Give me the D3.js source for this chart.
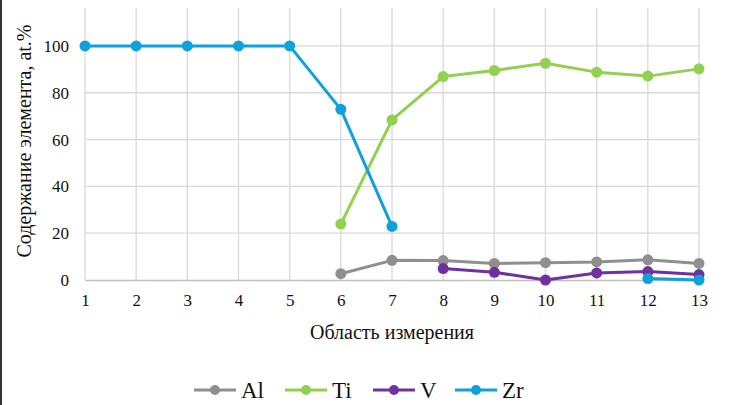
<!DOCTYPE html>
<html>
<head>
<meta charset="utf-8">
<script src="https://cdn.jsdelivr.net/npm/d3@7"></script>
<style>
  html, body { margin: 0; padding: 0; background: #fff; }
  svg { display: block; }
</style>
</head>
<body>
<svg id="chart" width="730" height="405" font-family="Liberation Serif"></svg>
<script>
// Measurement areas along the x axis
const areas = [1, 2, 3, 4, 5, 6, 7, 8, 9, 10, 11, 12, 13];
const yTicks = [0, 20, 40, 60, 80, 100];

// Element content per area, at.% (null = not measured)
const alValues = [null, null, null, null, null, 2.7, 8.4, 8.3, 7.1, 7.4, 7.7, 8.6, 7.1];
const tiValues = [null, null, null, null, null, 23.9, 68.4, 86.9, 89.5, 92.6, 88.8, 87.1, 90.2];
const vValues  = [null, null, null, null, null, null, null, 4.9, 3.3, 0, 3.0, 3.6, 2.3];
const zrValues = [100, 100, 100, 100, 100, 72.9, 22.9, null, null, null, null, 0.6, 0];

const seriesNames = ["Al", "Ti", "V", "Zr"];
const seriesColors = ["#8f8f8f", "#92d050", "#7030a0", "#0fa1db"];
const seriesValues = [alValues, tiValues, vValues, zrValues];

const svg = d3.select("#chart");
const serif = "Liberation Serif";
const ink = "#111";

const margin = { left: 85, right: 31, top: 8, bottom: 125 };
const W = 730, H = 405;

const x = d3.scaleLinear().domain([1, 13]).range([margin.left, W - margin.right]);
const y = d3.scaleLinear().domain([0, 116.2]).range([H - margin.bottom, margin.top]);

// frame edge on the left
svg.append("rect").attr("x", 0).attr("y", 0).attr("width", 2).attr("height", H).attr("fill", "#333");

// grid
const grid = svg.append("g");
grid.selectAll("line.v").data(areas).join("line")
  .attr("x1", d => x(d)).attr("x2", d => x(d))
  .attr("y1", y.range()[1]).attr("y2", y(0))
  .attr("stroke", "#d9d9d9").attr("stroke-width", 1.3);
grid.selectAll("line.h").data(yTicks.filter(d => d > 0)).join("line")
  .attr("x1", x(1)).attr("x2", x(13))
  .attr("y1", d => y(d)).attr("y2", d => y(d))
  .attr("stroke", "#d9d9d9").attr("stroke-width", 1.3);

// x axis
const xAxis = svg.append("g").attr("transform", `translate(0,${y(0)})`)
  .call(d3.axisBottom(x).tickValues(areas).tickSize(0).tickPadding(14).tickFormat(d3.format("d")));
xAxis.attr("font-family", serif).attr("font-size", 17);
xAxis.select(".domain").attr("stroke", "#bfbfbf").attr("stroke-width", 1.3);
xAxis.selectAll("text").attr("fill", ink);

// y axis
const yAxis = svg.append("g").attr("transform", `translate(${x(1)},0)`)
  .call(d3.axisLeft(y).tickValues(yTicks).tickSize(0).tickPadding(16));
yAxis.attr("font-family", serif).attr("font-size", 17);
yAxis.select(".domain").remove();
yAxis.selectAll("text").attr("fill", ink);

// axis titles
svg.append("text").attr("x", (x(1) + x(13)) / 2).attr("y", 339)
  .attr("text-anchor", "middle").attr("font-family", serif).attr("font-size", 20).attr("fill", ink)
  .text("Область измерения");
svg.append("text").attr("transform", `translate(31,141) rotate(-90)`)
  .attr("text-anchor", "middle").attr("font-family", serif).attr("font-size", 20).attr("fill", ink)
  .text("Содержание элемента, at.%");

// series
const line = d3.line().defined(d => d.v !== null).x(d => x(d.a)).y(d => y(d.v));
seriesValues.forEach((vals, i) => {
  const pts = areas.map((a, j) => ({ a, v: vals[j] }));
  const g = svg.append("g");
  g.append("path").datum(pts).attr("d", line)
    .attr("fill", "none").attr("stroke", seriesColors[i]).attr("stroke-width", 3)
    .attr("stroke-linejoin", "round");
  g.selectAll("circle").data(pts.filter(d => d.v !== null)).join("circle")
    .attr("cx", d => x(d.a)).attr("cy", d => y(d.v)).attr("r", 5.5)
    .attr("fill", seriesColors[i]);
});

// legend
const legendX = [194, 285, 373, 455];
const legendY = 390;
const lg = svg.append("g");
seriesNames.forEach((name, i) => {
  const lx = legendX[i];
  lg.append("line").attr("x1", lx).attr("x2", lx + 42).attr("y1", legendY).attr("y2", legendY)
    .attr("stroke", seriesColors[i]).attr("stroke-width", 3);
  lg.append("circle").attr("cx", lx + 21).attr("cy", legendY).attr("r", 5).attr("fill", seriesColors[i]);
  lg.append("text").attr("x", lx + 47).attr("y", legendY + 7.5)
    .attr("font-family", serif).attr("font-size", 23).attr("fill", ink).text(name);
});
</script>
</body>
</html>
